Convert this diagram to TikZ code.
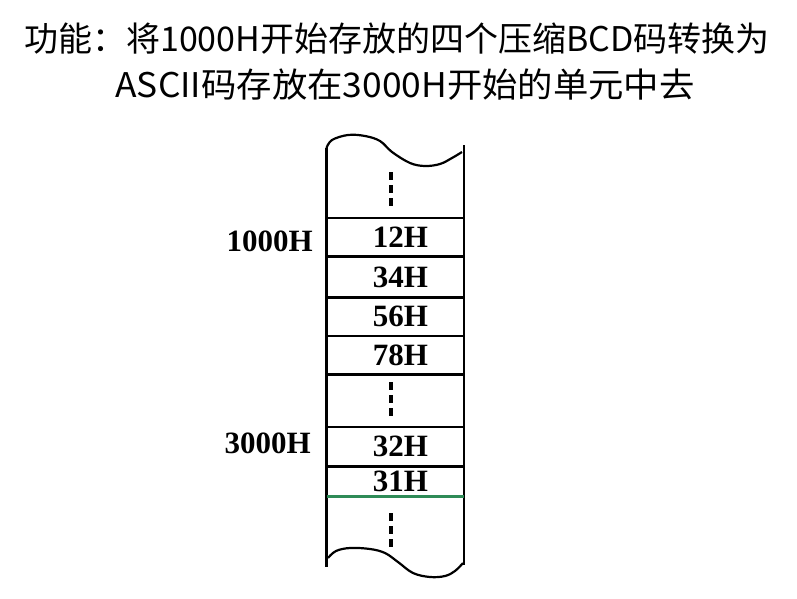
\documentclass[tikz,border=0pt]{standalone}
\usepackage{fontspec}
\setmainfont{Liberation Serif}
\newfontfamily\cjk{Noto Sans CJK SC}
\usepackage{tikz}
\usetikzlibrary{positioning, calc}
\usepackage{xcolor}
\definecolor{markgreen}{RGB}{46,139,87}
\tikzset{
  cellbox/.style={rectangle, inner sep=0pt, minimum width=137pt, minimum height=38pt,
    font=\fontsize{31}{33}\selectfont\bfseries, execute at begin node={\hspace*{10pt}}},
  addrlabel/.style={anchor=east, inner sep=0pt, font=\fontsize{31}{33}\selectfont\bfseries},
  titleline/.style={inner sep=0pt, font=\cjk\fontsize{34}{38}\selectfont},
  wall/.style={line width=2.6pt},
  wave/.style={line width=2.2pt, line join=round},
  dotline/.style={line width=4pt, dash pattern=on 8pt off 5pt},
  greenline/.style={line width=2.6pt, color=markgreen}
}
\begin{document}
\begin{tikzpicture}[x=1pt, y=-1pt]
  \useasboundingbox (0,0) rectangle (797,599);

  % title
  \node[titleline] (title1) at (397,39) {功能：将1000H开始存放的四个压缩BCD码转换为};
  \node[titleline, xscale=1.04] (title2) at (405,85) {ASCII码存放在3000H开始的单元中去};

  % memory cells
  \node[cellbox] (c12) at (395.5,237) {12H};
  \node[cellbox, minimum height=41pt, below=0pt of c12] (c34) {34H};
  \node[cellbox, below=0pt of c34] (c56) {56H};
  \node[cellbox, below=0pt of c56] (c78) {78H};
  \node[cellbox, minimum height=39pt] (c32) at (395.5,446.5) {32H};
  \node[cellbox, minimum height=30pt, below=0pt of c32] (c31) {31H};

  % addresses
  \node[addrlabel] (a1000) at (313,241) {1000H};
  \node[addrlabel] (a3000) at (311,443) {3000H};

  % side walls
  \coordinate (tl) at (326.5,148);
  \coordinate (tr) at (464,145);
  \coordinate (bl) at (326.5,567);
  \coordinate (br) at (464,565);
  \draw[wall] (tl) -- (bl);
  \draw[wall] (tr) -- (br);

  % cell borders
  \foreach \c in {c12,c34,c56,c78,c32,c31}
    \draw[wall] (\c.north west) -- (\c.north east);
  \draw[wall] (c78.south west) -- (c78.south east);
  \draw[greenline] (c31.south west) -- (c31.south east);

  % torn edges
  \draw[wave] plot[smooth, tension=0.6] coordinates
    {(tl) (332,140) (348,135) (365,136) (380,141) (392,152) (410,163) (425,166) (440,164) (452,158) (462,152)};
  \draw[wave] plot[smooth, tension=0.6] coordinates
    {(328,558) (336,551) (350,548) (370,549) (385,553) (398,562) (413,573) (430,577) (445,576) (455,571) (463,563)};

  % continuation dots
  \draw[dotline] (391,172) -- (391,208);
  \draw[dotline] (391,382) -- (391,418);
  \draw[dotline] (391,513) -- (391,549);
\end{tikzpicture}
\end{document}
